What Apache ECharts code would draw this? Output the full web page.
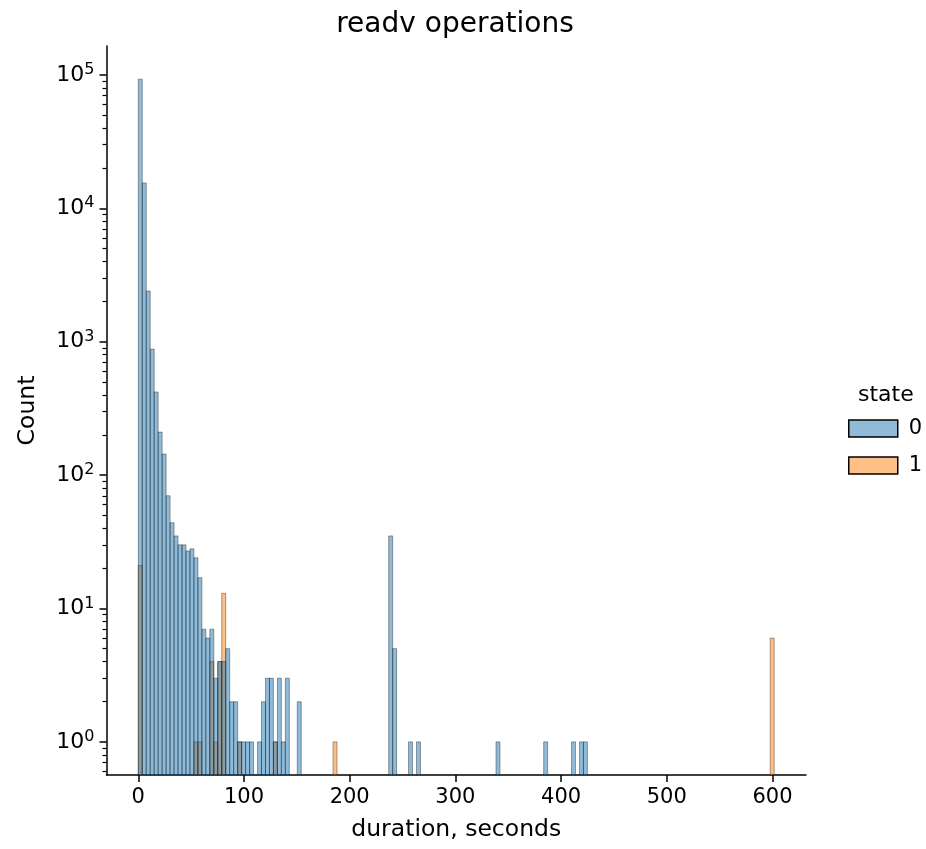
<!DOCTYPE html>
<html lang="en">
<head>
<meta charset="UTF-8">
<title>readv operations</title>
<script src="https://cdn.jsdelivr.net/npm/echarts@6/dist/echarts.min.js"></script>
<style>
  html, body { margin: 0; padding: 0; background: #fff; }
  #chart { width: 926px; height: 849px; }
</style>
</head>
<body>
<div id="chart"></div>
<script type="text/javascript">
  // histogram bins (seconds): bin k covers [k*binWidth, (k+1)*binWidth]
  var binWidth = 3.76;
  var xTicks = [0, 100, 200, 300, 400, 500, 600];
  var yTickPowers = [0, 1, 2, 3, 4, 5];

  // state 0 : bin index -> count
  var state0Bins = [0, 1, 2, 3, 4, 5, 6, 7, 8, 9, 10, 11, 12, 13, 14, 15, 16, 17, 18, 19,
    20, 21, 22, 23, 24, 25, 26, 27, 28, 30, 31, 32, 33, 34, 35, 36, 37, 40,
    63, 64, 68, 70, 90, 102, 109, 111, 112];
  var state0Counts = [93000, 15500, 2400, 880, 420, 210, 144, 70, 44, 35, 30, 30, 27, 28, 24, 17, 7, 6, 7, 3,
    4, 4, 5, 2, 2, 1, 1, 1, 1, 1, 2, 3, 3, 1, 3, 1, 3, 2,
    35, 5, 1, 1, 1, 1, 1, 1, 1];

  // state 1 : bin index -> count
  var state1Bins = [0, 14, 15, 18, 19, 20, 21, 25, 34, 49, 159];
  var state1Counts = [21, 1, 1, 4, 1, 4, 13, 1, 1, 1, 6];

  var fontFamily = 'DejaVu Sans';
  var yMin = 0.5645, yMax = 164800;
  var xMin = -30.08, xMax = 631.7;

  function buildData(bins, counts) {
    return bins.map(function (k, i) {
      return [k * binWidth, (k + 1) * binWidth, counts[i]];
    });
  }

  function renderBar(params, api) {
    var top = api.coord([api.value(0), api.value(2)]);
    var bottom = api.coord([api.value(1), yMin]);
    return {
      type: 'rect',
      shape: { x: top[0], y: top[1], width: bottom[0] - top[0], height: bottom[1] - top[1] },
      style: { fill: api.visual('color'), stroke: 'rgba(0,0,0,0.45)', lineWidth: 0.8 }
    };
  }

  // minor tick positions for the log axis (2..9 x 10^k), in log10 space
  var minorTicks = [];
  for (var p = -1; p <= 5; p++) {
    for (var m = 2; m <= 9; m++) {
      var v = m * Math.pow(10, p);
      if (v > yMin && v < yMax) minorTicks.push(Math.log10(v));
    }
  }

  var myChart = echarts.init(document.getElementById('chart'));
  myChart.setOption({
    animation: false,
    textStyle: { fontFamily: fontFamily },
    title: [{
      text: 'readv operations',
      left: 450, top: 6, textAlign: 'center',
      textStyle: { fontFamily: fontFamily, fontSize: 28, fontWeight: 'normal', color: '#000' }
    }, {
      text: 'state',
      left: 853, top: 379,
      textStyle: { fontFamily: fontFamily, fontSize: 22, fontWeight: 'normal', color: '#000' }
    }],
    legend: {
      orient: 'vertical',
      left: 843, top: 413,
      itemWidth: 49, itemHeight: 17, itemGap: 16,
      icon: 'rect',
      data: ['0', '1'],
      itemStyle: { borderColor: '#000', borderWidth: 1.5 },
      textStyle: { fontFamily: fontFamily, fontSize: 21, color: '#000', padding: [0, 0, 0, 6] }
    },
    grid: { left: 106.5, top: 46, width: 699.5, height: 729, containLabel: false },
    xAxis: {
      type: 'value',
      min: xMin, max: xMax,
      name: 'duration, seconds',
      nameLocation: 'middle', nameGap: 43,
      nameTextStyle: { fontFamily: fontFamily, fontSize: 23.5, color: '#000' },
      axisLine: { onZero: false, lineStyle: { color: '#000', width: 1.5 } },
      axisTick: { customValues: xTicks, length: 7, lineStyle: { color: '#000', width: 1.5 } },
      axisLabel: { customValues: xTicks, margin: 12, fontSize: 21, color: '#000', fontFamily: fontFamily },
      splitLine: { show: false }
    },
    yAxis: [{
      type: 'log',
      logBase: 10,
      min: yMin, max: yMax,
      name: 'Count',
      nameLocation: 'middle', nameGap: 67,
      nameTextStyle: { fontFamily: fontFamily, fontSize: 23.5, color: '#000' },
      axisLine: { onZero: false, lineStyle: { color: '#000', width: 1.5 } },
      axisTick: { show: false },
      axisLabel: { show: false },
      splitLine: { show: false }
    }, {
      type: 'value',
      position: 'left',
      min: Math.log10(yMin), max: Math.log10(yMax),
      axisLine: { show: false, onZero: false },
      axisTick: { customValues: yTickPowers, length: 7, lineStyle: { color: '#000', width: 1.5 } },
      axisLabel: {
        customValues: yTickPowers,
        margin: 12,
        fontSize: 22, color: '#000', fontFamily: fontFamily,
        lineHeight: 26,
        formatter: function (v) { return '10{s|' + v + '}'; },
        rich: {
          s: { fontSize: 16, lineHeight: 14, verticalAlign: 'top', color: '#000', fontFamily: fontFamily }
        }
      },
      splitLine: { show: false }
    }, {
      type: 'value',
      position: 'left',
      min: Math.log10(yMin), max: Math.log10(yMax),
      axisLine: { show: false, onZero: false },
      axisTick: { customValues: minorTicks, length: 4, lineStyle: { color: '#000', width: 1.2 } },
      axisLabel: { show: false },
      splitLine: { show: false }
    }],
    series: [{
      name: '1',
      type: 'custom',
      xAxisIndex: 0, yAxisIndex: 0,
      clip: true,
      itemStyle: { color: 'rgba(255,127,14,0.5)' },
      encode: { x: [0, 1], y: 2 },
      renderItem: renderBar,
      data: buildData(state1Bins, state1Counts)
    }, {
      name: '0',
      type: 'custom',
      xAxisIndex: 0, yAxisIndex: 0,
      clip: true,
      itemStyle: { color: 'rgba(31,119,180,0.5)' },
      encode: { x: [0, 1], y: 2 },
      renderItem: renderBar,
      data: buildData(state0Bins, state0Counts)
    }]
  });
</script>
</body>
</html>
